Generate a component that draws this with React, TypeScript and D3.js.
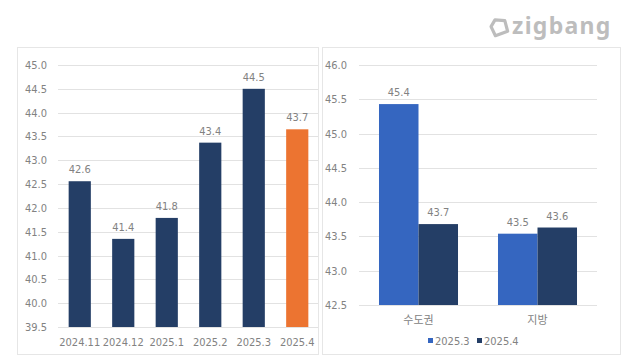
import * as d3 from "d3";

// left panel: monthly series
const months = ["2024.11", "2024.12", "2025.1", "2025.2", "2025.3", "2025.4"];
const monthValues = [42.56, 41.35, 41.79, 43.37, 44.5, 43.65];
const monthLabels = ["42.6", "41.4", "41.8", "43.4", "44.5", "43.7"];
const leftTicks = [39.5, 40, 40.5, 41, 41.5, 42, 42.5, 43, 43.5, 44, 44.5, 45];

// right panel: region comparison
const regions = ["수도권", "지방"];
const seriesNames = ["2025.3", "2025.4"];
const marchValues = [45.43, 43.54];
const aprilValues = [43.68, 43.63];
const regionLabels = [["45.4", "43.7"], ["43.5", "43.6"]];
const rightTicks = [42.5, 43, 43.5, 44, 44.5, 45, 45.5, 46];

const NAVY = "#243e66";
const ORANGE = "#ec7431";
const BLUE = "#3566c0";
const TXT = "#828282";
const GRID = "#e2e2e2";
const FONT = "'Liberation Sans Narrow', 'DejaVu Sans Condensed', 'Noto Sans CJK KR', sans-serif";

export default function App() {
  const x1 = d3.scaleBand().domain(months).range([58, 319]).paddingInner(0.49).paddingOuter(0.245);
  const y1 = d3.scaleLinear().domain([39.5, 45]).range([327, 65]);

  const x2 = d3.scaleBand().domain(regions).range([359, 597]).paddingInner(0.336).paddingOuter(0.168);
  const xs = d3.scaleBand().domain(seriesNames).range([0, x2.bandwidth()]);
  const y2 = d3.scaleLinear().domain([42.5, 46]).range([305, 65]);
  const rightVals = [marchValues, aprilValues];
  const rightColors = [BLUE, NAVY];

  return (
    <svg width={640} height={360} style={{ position: "absolute", left: 0, top: 0, background: "#fff" }} fontFamily={FONT}>
      <rect x={0} y={0} width={640} height={360} fill="#fff" />
      {/* logo */}
      <g transform="translate(499,28) rotate(-20)" fill="none" stroke="#bdbdbd" strokeWidth={3.2} strokeLinejoin="round">
        <path d="M-7,-4 L-1,-9 L8,-5 L7,6 L-6,6 Z" />
      </g>
      <text x={512} y={34} fontSize={23} fontWeight={700} letterSpacing={1.3} fill="#bdbdbd"
        fontFamily="'Noto Sans', sans-serif">zigbang</text>

      {/* panel borders */}
      <rect x={17.5} y={47.5} width={301} height={307} fill="none" stroke="#e6e6e6" />
      <rect x={322.5} y={47.5} width={298} height={307} fill="none" stroke="#e6e6e6" />

      {/* left chart */}
      {leftTicks.map((t) => (
        <g key={"l" + t}>
          <line x1={58} x2={318} y1={Math.round(y1(t)) + 0.5} y2={Math.round(y1(t)) + 0.5} stroke={GRID} />
          <text x={25} y={y1(t) + 4} fontSize={11} fill={TXT}>{t.toFixed(1)}</text>
        </g>
      ))}
      {months.map((m, i) => (
        <g key={m}>
          <rect x={x1(m)} y={y1(monthValues[i])} width={x1.bandwidth()} height={y1(39.5) - y1(monthValues[i])}
            fill={i === months.length - 1 ? ORANGE : NAVY} />
          <text x={x1(m)! + x1.bandwidth() / 2} y={y1(monthValues[i]) - 8} fontSize={11} fill={TXT} textAnchor="middle">
            {monthLabels[i]}
          </text>
          <text x={x1(m)! + x1.bandwidth() / 2} y={346} fontSize={11} fill={TXT} textAnchor="middle">{m}</text>
        </g>
      ))}

      {/* right chart */}
      {rightTicks.map((t) => (
        <g key={"r" + t}>
          <line x1={359} x2={597} y1={Math.round(y2(t)) + 0.5} y2={Math.round(y2(t)) + 0.5} stroke={GRID} />
          <text x={325} y={y2(t) + 4} fontSize={11} fill={TXT}>{t.toFixed(1)}</text>
        </g>
      ))}
      {regions.map((r, i) => (
        <g key={r} transform={`translate(${x2(r)},0)`}>
          {seriesNames.map((s, j) => (
            <g key={s}>
              <rect x={xs(s)} y={y2(rightVals[j][i])} width={xs.bandwidth()} height={y2(42.5) - y2(rightVals[j][i])}
                fill={rightColors[j]} />
              <text x={xs(s)! + xs.bandwidth() / 2} y={y2(rightVals[j][i]) - 8} fontSize={11} fill={TXT} textAnchor="middle">
                {regionLabels[i][j]}
              </text>
            </g>
          ))}
          <text x={x2.bandwidth() / 2} y={324} fontSize={11} fill={TXT} textAnchor="middle"
            fontFamily="'Noto Sans CJK KR', sans-serif">{r}</text>
        </g>
      ))}

      {/* legend */}
      {seriesNames.map((s, j) => (
        <g key={"lg" + s} transform={`translate(${428 + j * 49},0)`}>
          <rect x={0} y={338} width={5} height={5} fill={rightColors[j]} />
          <text x={7} y={345} fontSize={11} fill={TXT}>{s}</text>
        </g>
      ))}
    </svg>
  );
}
